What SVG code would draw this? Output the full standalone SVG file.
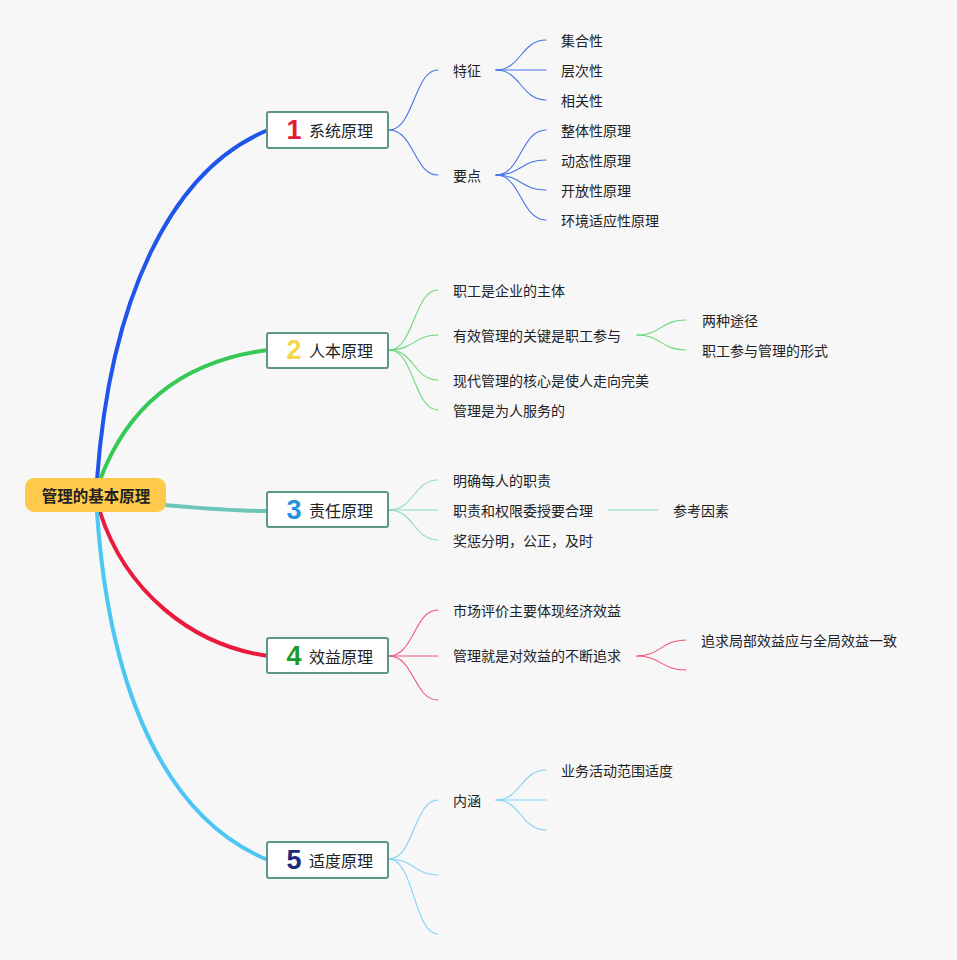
<svg xmlns="http://www.w3.org/2000/svg" width="957" height="960" viewBox="0 0 957 960">
<style>
text{font-family:"Noto Sans CJK SC","Noto Sans",sans-serif;fill:#222;dominant-baseline:central}
.leaf{font-size:14px}
.lbl{font-size:16px}
.num{font-family:"Liberation Sans","Noto Sans",sans-serif;font-weight:bold;font-size:27px;text-anchor:middle}
.box{fill:#fff;stroke:#5b9686;stroke-width:2}
.c{fill:none;stroke-linecap:round}
.b1{stroke:#4773e3;stroke-width:1.1}
.b2{stroke:#6bd97c;stroke-width:1.1}
.b3{stroke:#8fd8c9;stroke-width:1.1}
.b4{stroke:#ee5775;stroke-width:1.1}
.b5{stroke:#7fd3f4;stroke-width:1.1}
</style>
<rect width="957" height="960" fill="#f7f7f8"/>
<g id="connectors">
  <path class="c" d="M97,480 C110,300 170,170 268,130" stroke="#1f55ea" stroke-width="4"/>
  <path class="c" d="M100,480 C130,400 190,360 268,350" stroke="#37c956" stroke-width="4"/>
  <path class="c" d="M165,505 C200,508 230,511 268,511" stroke="#6cc6b8" stroke-width="4"/>
  <path class="c" d="M100,512 C125,590 190,645 268,656" stroke="#ea1a3d" stroke-width="4"/>
  <path class="c" d="M97,512 C110,700 170,820 268,860" stroke="#4cc6f3" stroke-width="4"/>
  <!-- branch 1 -->
  <path class="c b1" d="M389,130 C414,130 414,70 438,70"/>
  <path class="c b1" d="M389,130 C414,130 414,175 438,175"/>
  <path class="c b1" d="M496,70 C521,70 521,40 546,40"/>
  <path class="c b1" d="M496,70 L546,70"/>
  <path class="c b1" d="M496,70 C521,70 521,100 546,100"/>
  <path class="c b1" d="M496,175 C521,175 521,130 546,130"/>
  <path class="c b1" d="M496,175 C521,175 521,160 546,160"/>
  <path class="c b1" d="M496,175 C521,175 521,190 546,190"/>
  <path class="c b1" d="M496,175 C521,175 521,220 546,220"/>
  <!-- branch 2 -->
  <path class="c b2" d="M389,350 C414,350 414,290 438,290"/>
  <path class="c b2" d="M389,350 C414,350 414,335 438,335"/>
  <path class="c b2" d="M389,350 C414,350 414,380 438,380"/>
  <path class="c b2" d="M389,350 C414,350 414,410 438,410"/>
  <path class="c b2" d="M637,335 C661,335 661,320 686,320"/>
  <path class="c b2" d="M637,335 C661,335 661,350 686,350"/>
  <!-- branch 3 -->
  <path class="c b3" d="M389,510 C414,510 414,480 438,480"/>
  <path class="c b3" d="M389,510 L438,510"/>
  <path class="c b3" d="M389,510 C414,510 414,540 438,540"/>
  <path class="c b3" d="M608,510 L658,510"/>
  <!-- branch 4 -->
  <path class="c b4" d="M389,656 C414,656 414,610 438,610"/>
  <path class="c b4" d="M389,656 L438,656"/>
  <path class="c b4" d="M389,656 C414,656 414,700 438,700"/>
  <path class="c b4" d="M637,656 C661,656 661,640 686,640"/>
  <path class="c b4" d="M637,656 C661,656 661,670 686,670"/>
  <!-- branch 5 -->
  <path class="c b5" d="M389,859 C414,859 414,800 438,800"/>
  <path class="c b5" d="M389,859 C414,859 414,875 438,875"/>
  <path class="c b5" d="M389,859 C414,859 414,934 438,934"/>
  <path class="c b5" d="M496,800 C521,800 521,770 546,770"/>
  <path class="c b5" d="M496,800 L546,800"/>
  <path class="c b5" d="M496,800 C521,800 521,830 546,830"/>
</g>
<g id="root">
  <rect x="25" y="478" width="141" height="34" rx="9" fill="#ffc94b"/>
  <text x="96" y="494.5" font-size="15.5" font-weight="bold" text-anchor="middle">管理的基本原理</text>
</g>
<g id="n1">
  <rect class="box" x="267" y="112" width="121" height="36" rx="2"/>
  <text class="num" x="294" y="130" style="fill:#e11d3c">1</text>
  <text class="lbl" x="309" y="129.5">系统原理</text>
</g>
<g id="n2">
  <rect class="box" x="267" y="333" width="121" height="35" rx="2"/>
  <text class="num" x="294" y="350" style="fill:#f3d84c">2</text>
  <text class="lbl" x="309" y="349.5">人本原理</text>
</g>
<g id="n3">
  <rect class="box" x="267" y="492" width="121" height="35" rx="2"/>
  <text class="num" x="294" y="510" style="fill:#2592dc">3</text>
  <text class="lbl" x="309" y="509.5">责任原理</text>
</g>
<g id="n4">
  <rect class="box" x="267" y="638" width="121" height="35" rx="2"/>
  <text class="num" x="294" y="656" style="fill:#1d9a2a">4</text>
  <text class="lbl" x="309" y="655.5">效益原理</text>
</g>
<g id="n5">
  <rect class="box" x="267" y="842" width="121" height="36" rx="2"/>
  <text class="num" x="294" y="860" style="fill:#1d2a7c">5</text>
  <text class="lbl" x="309" y="859.5">适度原理</text>
</g>
<g id="n1-sub">
  <text class="leaf" x="453" y="70">特征</text>
  <text class="leaf" x="453" y="175">要点</text>
  <text class="leaf" x="561" y="40">集合性</text>
  <text class="leaf" x="561" y="70">层次性</text>
  <text class="leaf" x="561" y="100">相关性</text>
  <text class="leaf" x="561" y="130">整体性原理</text>
  <text class="leaf" x="561" y="160">动态性原理</text>
  <text class="leaf" x="561" y="190">开放性原理</text>
  <text class="leaf" x="561" y="220">环境适应性原理</text>
</g>
<g id="n2-sub">
  <text class="leaf" x="453" y="290">职工是企业的主体</text>
  <text class="leaf" x="453" y="335">有效管理的关键是职工参与</text>
  <text class="leaf" x="453" y="380">现代管理的核心是使人走向完美</text>
  <text class="leaf" x="453" y="410">管理是为人服务的</text>
  <text class="leaf" x="702" y="320">两种途径</text>
  <text class="leaf" x="702" y="350">职工参与管理的形式</text>
</g>
<g id="n3-sub">
  <text class="leaf" x="453" y="480">明确每人的职责</text>
  <text class="leaf" x="453" y="510">职责和权限委授要合理</text>
  <text class="leaf" x="453" y="540">奖惩分明，公正，及时</text>
  <text class="leaf" x="673" y="510">参考因素</text>
</g>
<g id="n4-sub">
  <text class="leaf" x="453" y="610">市场评价主要体现经济效益</text>
  <text class="leaf" x="453" y="655">管理就是对效益的不断追求</text>
  <text class="leaf" x="701" y="640">追求局部效益应与全局效益一致</text>
</g>
<g id="n5-sub">
  <text class="leaf" x="453" y="800">内涵</text>
  <text class="leaf" x="561" y="770">业务活动范围适度</text>
</g>
</svg>
